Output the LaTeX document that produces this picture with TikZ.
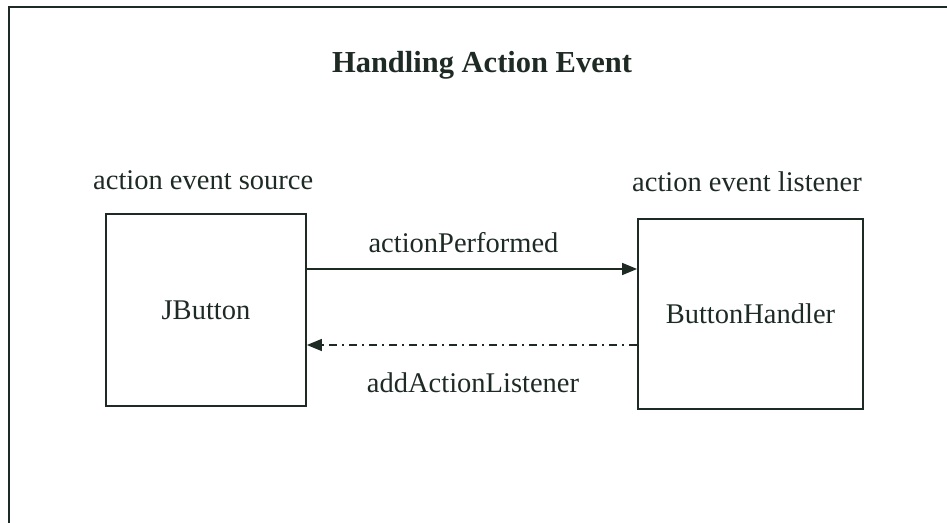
\documentclass[tikz,border=0pt]{standalone}
\usepackage{fontspec}
\setmainfont{Liberation Serif}
\usetikzlibrary{arrows.meta}
\definecolor{ink}{RGB}{30,42,36}
\tikzset{
  lbl/.style={anchor=base west,inner sep=0pt,text=ink,font=\fontsize{28.5}{34}\selectfont},
  boxnode/.style={draw=ink,line width=1.8pt,inner sep=0pt,text=ink,font=\fontsize{28.5}{34}\selectfont},
  frameline/.style={draw=ink,line width=2pt},
  msg/.style={draw=ink,line width=1.5pt,-{Triangle[length=15pt,width=12pt]}},
  retmsg/.style={msg,dash pattern=on 8pt off 5pt on 2pt off 5pt}
}
\begin{document}
\begin{tikzpicture}[x=1pt,y=-1pt]
\useasboundingbox (0,0) rectangle (947,522);
% outer frame (only left and top edges visible)
\coordinate (fbl) at (9,530);
\coordinate (ftl) at (9,7);
\coordinate (ftr) at (955,7);
\draw[frameline] (fbl) -- (ftl) -- (ftr);
% title
\node[lbl,anchor=base,font=\fontsize{30.5}{36}\selectfont\bfseries] (title) at (482,72) {Handling Action Event};
% captions
\node[lbl] (srccap) at (93,189) {action event source};
\node[lbl] (lstcap) at (632,191) {action event listener};
% boxes
\node[boxnode,minimum width=200pt,minimum height=192pt] (jb) at (206,310) {JButton};
\node[boxnode,minimum width=225pt,minimum height=190pt] (bh) at (750.5,314) {ButtonHandler};
% messages
\coordinate (y1) at (0,269);
\coordinate (y2) at (0,345);
\draw[msg] (jb.east |- y1) -- (bh.west |- y1);
\draw[retmsg] (bh.west |- y2) -- (jb.east |- y2);
\node[lbl,anchor=base] (ap) at (463.5,252) {actionPerformed};
\node[lbl,anchor=base] (al) at (473,392) {addActionListener};
\end{tikzpicture}
\end{document}
